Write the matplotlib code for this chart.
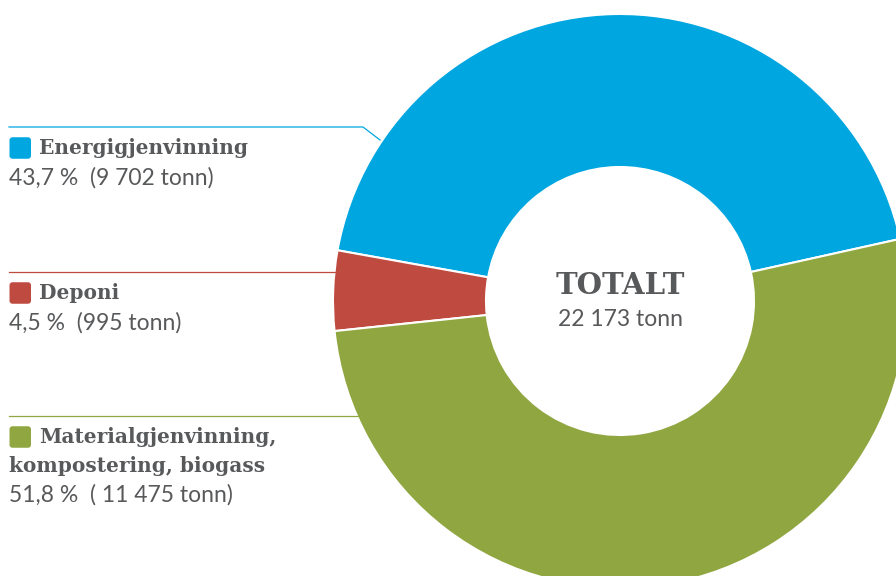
import matplotlib
matplotlib.use("Agg")
import matplotlib.pyplot as plt
from matplotlib.patches import FancyBboxPatch

# ---- data ----
categories = ["Energigjenvinning", "Deponi", "Materialgjenvinning,\nkompostering, biogass"]
percents = [43.7, 4.5, 51.8]
tonnes = [9702, 995, 11475]
value_labels = ["43,7 %  (9 702 tonn)", "4,5 %  (995 tonn)", "51,8 %  ( 11 475 tonn)"]
colors = ["#00a6e0", "#bf4a40", "#90a641"]
total_title = "TOTALT"
total_label = "22 173 tonn"

H = 576
def Y(y):
    return H - y

fig = plt.figure(figsize=(8.96, 5.76), dpi=100)
ax = fig.add_axes([0, 0, 1, 1])

cx, cy = 620, Y(301)
R_out, R_in = 287, 134
ax.pie(percents, colors=colors, startangle=12.5, counterclock=True,
       center=(cx, cy), radius=R_out,
       wedgeprops=dict(width=R_out - R_in, edgecolor="white", linewidth=1.5))
ax.set_xlim(0, 896)
ax.set_ylim(0, H)
ax.set_aspect("equal")
ax.axis("off")

txt = "#58595b"
bold_font = "DejaVu Serif"
sans_font = "Lato"

# center text
ax.text(cx, Y(286), total_title, ha="center", va="center", fontsize=21,
        fontweight="bold", family=bold_font, color=txt)
ax.text(cx, Y(319), total_label, ha="center", va="center", fontsize=16.5,
        family=sans_font, color=txt)

# leader lines
lw = 0.9
ax.plot([9, 363, 380], [Y(127), Y(127), Y(140)], color=colors[0], lw=lw)
ax.plot([9, 336], [Y(271.5), Y(271.5)], color=colors[1], lw=lw)
ax.plot([9, 358], [Y(416), Y(416)], color=colors[2], lw=lw)

# legend blocks
blocks = [
    (148, 178),   # y center of bold label, y center of value line
    (293, 323),
    (437, 495),
]
for i, (yl, yv) in enumerate(blocks):
    sq = 21.5
    ax.add_patch(FancyBboxPatch((9.5, Y(yl) - sq / 2), sq, sq,
                                boxstyle="round,pad=0,rounding_size=3",
                                facecolor=colors[i], edgecolor="none"))
    if i == 2:
        first, second = categories[i].split("\n")
        ax.text(39, Y(yl), first, ha="left", va="center", fontsize=14.5,
                fontweight="bold", family=bold_font, color=txt)
        ax.text(9, Y(466), second, ha="left", va="center", fontsize=14.5,
                fontweight="bold", family=bold_font, color=txt)
    else:
        ax.text(39, Y(yl), categories[i], ha="left", va="center", fontsize=14.5,
                fontweight="bold", family=bold_font, color=txt)
    ax.text(9, Y(yv), value_labels[i], ha="left", va="center", fontsize=16.5,
            family=sans_font, color=txt)

fig.savefig("out.png", dpi=100)
